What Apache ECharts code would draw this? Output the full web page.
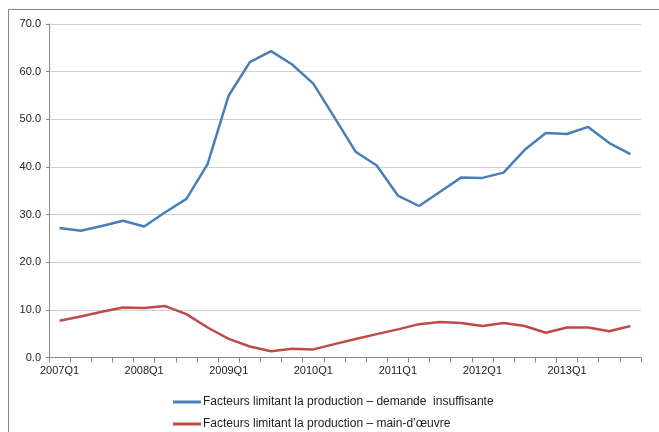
<!DOCTYPE html>
<html><head><meta charset="utf-8">
<script src="https://cdn.jsdelivr.net/npm/echarts@6/dist/echarts.min.js"></script>
<style>html,body{margin:0;padding:0;background:#fff}#c{width:659px;height:432px}</style>
</head><body><div id="c"></div>
<script>
const categories = [];
for (let y = 2007; y <= 2013; y++) for (let q = 1; q <= 4; q++) categories.push(y + 'Q' + q);
const demande = [27.2,26.6,27.6,28.7,27.5,30.5,33.3,40.6,55.0,62.0,64.3,61.5,57.5,50.4,43.2,40.3,34.0,31.8,34.8,37.8,37.7,38.8,43.6,47.1,46.9,48.4,45.0,42.7];
const mainOeuvre = [7.7,8.6,9.6,10.5,10.4,10.8,9.1,6.3,3.9,2.3,1.3,1.85,1.7,2.8,3.9,4.9,5.9,7.0,7.45,7.25,6.6,7.25,6.6,5.2,6.3,6.3,5.5,6.6];
const seriesNames = ['Facteurs limitant la production \u2013 demande  insuffisante','Facteurs limitant la production \u2013 main-d\u2019\u0153uvre'];
const legendBase = {left:168,itemWidth:28,itemHeight:3,icon:'rect',textStyle:{fontSize:12,color:'#222',padding:[0,0,0,-3]}};
const chart = echarts.init(document.getElementById('c'));
chart.setOption({
  animation:false,
  textStyle:{fontFamily:'Liberation Sans, Arial, sans-serif'},
  graphic:[{type:'rect',shape:{x:8.5,y:9.5,width:660,height:440},style:{fill:'none',stroke:'#888',lineWidth:1},silent:true}],
  grid:{left:49,right:18,top:24,bottom:74.5},
  legend:[
    Object.assign({top:391,data:[seriesNames[0]]},legendBase),
    Object.assign({top:413,data:[seriesNames[1]]},legendBase)
  ],
  xAxis:{type:'category',data:categories,boundaryGap:true,
    axisLine:{lineStyle:{color:'#888',width:1}},
    axisTick:{show:true,interval:0,length:5,lineStyle:{color:'#888'}},
    axisLabel:{interval:3,color:'#222',fontSize:11,margin:8}},
  yAxis:{type:'value',min:0,max:70,interval:10,
    axisLine:{show:true,lineStyle:{color:'#888'}},
    axisTick:{show:true,length:3,lineStyle:{color:'#888'}},
    splitLine:{lineStyle:{color:'#d0d0d0',width:1}},
    axisLabel:{formatter:v=>v.toFixed(1),color:'#222',fontSize:11,margin:8}},
  series:[
    {name:seriesNames[0],type:'line',data:demande,symbol:'none',lineStyle:{color:'#4a7ebb',width:2.5},itemStyle:{color:'#4a7ebb'}},
    {name:seriesNames[1],type:'line',data:mainOeuvre,symbol:'none',lineStyle:{color:'#be4b48',width:2.5},itemStyle:{color:'#be4b48'}}
  ]
});
</script></body></html>
